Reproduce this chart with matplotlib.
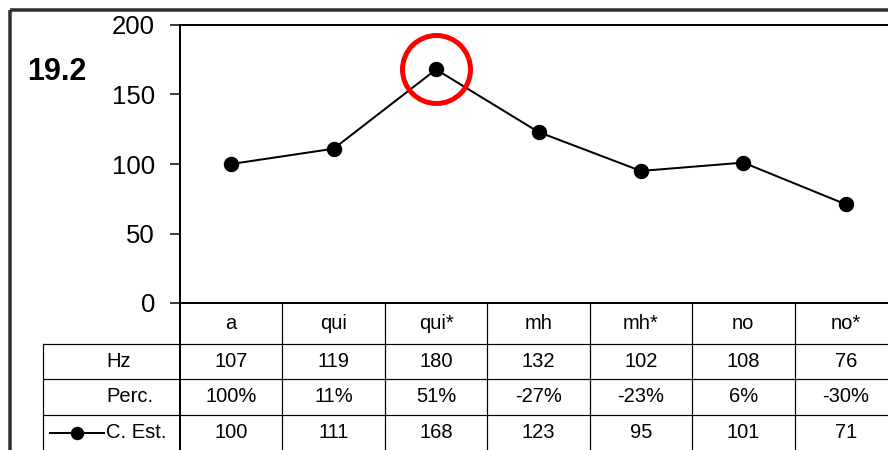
import matplotlib
matplotlib.use('Agg')
import matplotlib.pyplot as plt
from matplotlib.transforms import blended_transform_factory

# ---- data
categories = ['a', 'qui', 'qui*', 'mh', 'mh*', 'no', 'no*']
hz = ['107', '119', '180', '132', '102', '108', '76']
perc = ['100%', '11%', '51%', '-27%', '-23%', '6%', '-30%']
c_est = [100, 111, 168, 123, 95, 101, 71]
row_labels = ['Hz', 'Perc.', 'C. Est.']
highlight = 2          # index of circled point
panel_label = '19.2'

W, H = 888, 450
PX = 72.0 / 100        # points per pixel at dpi 100
plt.rcParams['font.family'] = ['Liberation Sans', 'DejaVu Sans']

fig = plt.figure(figsize=(W / 100, H / 100), dpi=100)

# overlay axes in pixel coordinates for frame / table grid
ov = fig.add_axes([0, 0, 1, 1], zorder=0)
ov.set_xlim(0, W)
ov.set_ylim(H, 0)
ov.axis('off')

# main plot area
x0, x1, ytop, ybot = 180, 897, 25, 303
ax = fig.add_axes([x0 / W, (H - ybot) / H, (x1 - x0) / W, (ybot - ytop) / H], zorder=2)
ax.patch.set_alpha(0)
ax.set_xlim(-0.5, len(categories) - 0.5)
ax.set_ylim(0, 200)
ax.set_yticks([0, 50, 100, 150, 200])
ax.set_xticks([])
ax.tick_params(axis='y', direction='out', length=10 * PX, width=1.5 * PX,
               pad=15 * PX, labelsize=18.5)
for s in ax.spines.values():
    s.set_linewidth(2 * PX)
    s.set_color('black')

xs = list(range(len(categories)))
ax.plot(xs, c_est, color='black', lw=2 * PX, marker='o', ms=14 * PX,
        mfc='black', mec='black', clip_on=False, zorder=3)
ax.plot(xs[highlight], c_est[highlight], marker='o', ms=68 * PX, mfc='none',
        mec='#ff0000', mew=5 * PX, clip_on=False, zorder=4)

# outer frame
ov.plot([10, 10], [10, H], color='#303030', lw=3.5 * PX, solid_capstyle='butt')
ov.plot([10, W], [10, 10], color='#303030', lw=3.5 * PX, solid_capstyle='butt')

# panel label
ov.text(57, 72, panel_label, fontsize=22, fontweight='bold', ha='center', va='center')

# data table
tr = blended_transform_factory(ax.transData, ov.transData)
row_lines = [344, 379, 415]
row_centers = [323.5, 361.5, 397, 433]
lw_t = 1.2 * PX
for y in row_lines:
    ov.plot([43, W + 10], [y, y], color='black', lw=lw_t)
ov.plot([43, 43], [row_lines[0], H + 5], color='black', lw=lw_t)
ov.plot([x0, x0], [ybot, H + 5], color='black', lw=2 * PX)
for i in xs:
    ax.plot([i + 0.5, i + 0.5], [ybot, H + 5], color='black', lw=lw_t,
            transform=tr, clip_on=False)

tfs = 14.5
for i, cat in enumerate(categories):
    ax.text(i, row_centers[0], cat, transform=tr, ha='center', va='center', fontsize=tfs)
    ax.text(i, row_centers[1], hz[i], transform=tr, ha='center', va='center', fontsize=tfs)
    ax.text(i, row_centers[2], perc[i], transform=tr, ha='center', va='center', fontsize=tfs)
    ax.text(i, row_centers[3], str(c_est[i]), transform=tr, ha='center', va='center', fontsize=tfs)

for lab, yc in zip(row_labels, row_centers[1:]):
    ov.text(106, yc, lab, ha='left', va='center', fontsize=tfs)

# legend key
ov.plot([50, 104], [row_centers[3], row_centers[3]], color='black', lw=2 * PX)
ov.plot([77], [row_centers[3]], marker='o', ms=12 * PX, color='black')

fig.savefig('out.png', dpi=100, facecolor='white')
